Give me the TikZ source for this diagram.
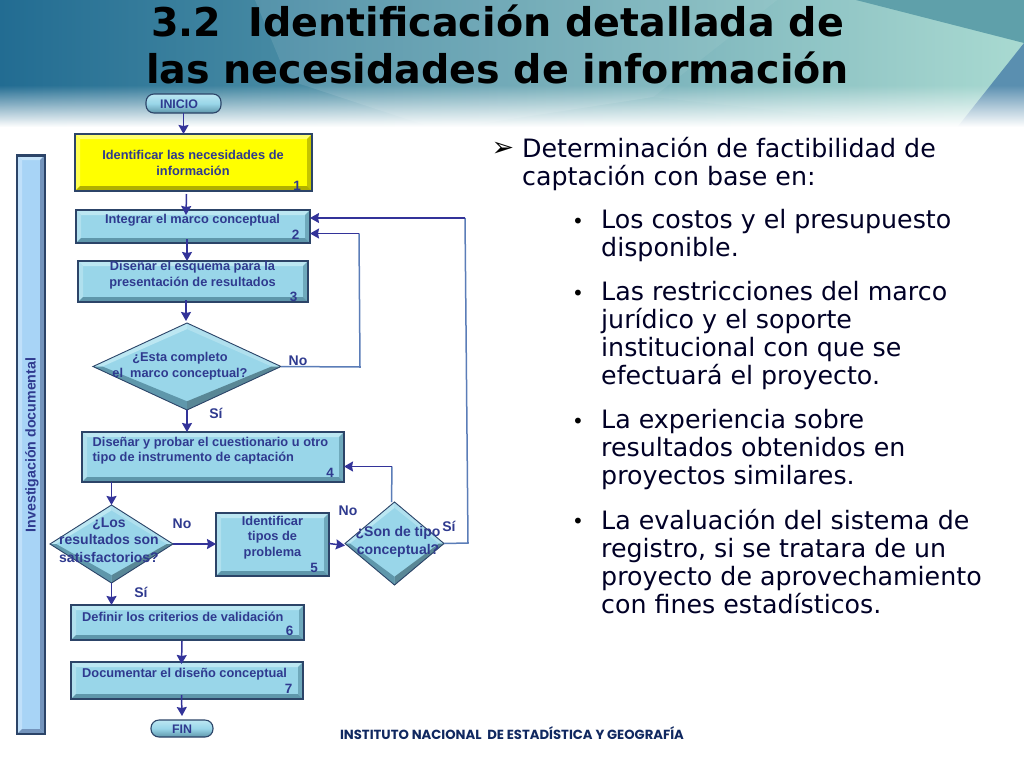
\documentclass[tikz,border=0pt]{standalone}
\usepackage{fontspec}
\setmainfont{Liberation Sans}
\newfontfamily\dv{DejaVu Sans}
\newfontfamily\pop{Poppins}
\usetikzlibrary{arrows.meta,shapes.geometric,calc}
\definecolor{ink}{HTML}{2F3A8F}
\definecolor{arrowc}{HTML}{333399}
\definecolor{loopc}{HTML}{5B7DB8}
\definecolor{edgec}{HTML}{2C4468}
\definecolor{blumain}{HTML}{99D6E9}
\definecolor{blutop}{HTML}{BCE7F2}
\definecolor{bluleft}{HTML}{B0E0EE}
\definecolor{bluright}{HTML}{6FA9BC}
\definecolor{blubot}{HTML}{5F97AB}
\definecolor{yelmain}{HTML}{FFFF00}
\definecolor{yeltop}{HTML}{FFFF70}
\definecolor{yelleft}{HTML}{FFFF50}
\definecolor{yelright}{HTML}{C4C400}
\definecolor{yelbot}{HTML}{B0B000}
\definecolor{sidmain}{HTML}{A8D4F6}
\definecolor{sidtop}{HTML}{C6E4FA}
\definecolor{sidleft}{HTML}{C0E0FA}
\definecolor{sidright}{HTML}{7494BC}
\definecolor{sidbot}{HTML}{7494BC}
\definecolor{bandl}{RGB}{34,108,146}
\definecolor{bandm}{RGB}{100,152,170}
\definecolor{bandr}{RGB}{165,216,207}
\definecolor{bandc}{RGB}{95,160,170}
\definecolor{bandt}{RGB}{90,143,176}
\definecolor{footc}{RGB}{16,40,96}
\tikzset{
  x=1pt,y=-1pt,
  flowtxt/.style={font=\bfseries\fontsize{12.8}{15.4}\selectfont,text=ink,align=center,inner sep=0pt},
  bigtxt/.style={flowtxt,font=\bfseries\fontsize{14}{17.3}\selectfont},
  lefttxt/.style={flowtxt,align=left,anchor=west},
  numtxt/.style={flowtxt,font=\bfseries\fontsize{13.5}{15}\selectfont},
  lbl/.style={flowtxt,font=\bfseries\fontsize{14}{15}\selectfont},
  flow/.style={draw=arrowc,line width=1.5pt,-{Stealth[length=9pt,width=10pt,inset=1pt]}},
  loopline/.style={draw=loopc,line width=1.5pt},
  pill/.style={rectangle,rounded corners=8pt,draw=edgec,line width=1.1pt,top color=blutop,bottom color=blubot,middle color=blumain,inner sep=0pt,outer sep=0pt},
  body/.style={font=\dv\fontsize{25.3}{28}\selectfont,text=black!85!blue,align=left,anchor=north west,inner sep=0pt},
  bul/.style={font=\dv\fontsize{20}{28}\selectfont,text=black,inner sep=0pt},
  titletxt/.style={font=\dv\bfseries\fontsize{39.6}{47}\selectfont,text=black,inner sep=0pt,anchor=center}
}
\newcommand\bev[6]{%
  \node[rectangle,inner sep=0pt,outer sep=0pt,fill=#6main,minimum width={(#4-#2)*1pt},minimum height={(#5-#3)*1pt}] (#1) at ({(#2+#4)/2},{(#3+#5)/2}) {};
  \fill[#6top] (#1.north west) -- (#1.north east) -- ([shift={(-5,5)}]#1.north east) -- ([shift={(5,5)}]#1.north west) -- cycle;
  \fill[#6left] (#1.north west) -- (#1.south west) -- ([shift={(5,-5)}]#1.south west) -- ([shift={(5,5)}]#1.north west) -- cycle;
  \fill[#6right] (#1.north east) -- (#1.south east) -- ([shift={(-5,-5)}]#1.south east) -- ([shift={(-5,5)}]#1.north east) -- cycle;
  \fill[#6bot] (#1.south west) -- (#1.south east) -- ([shift={(-5,-5)}]#1.south east) -- ([shift={(5,-5)}]#1.south west) -- cycle;
  \draw[edgec,line width=1.1pt] (#1.north west) rectangle (#1.south east);
}
\newcommand\dia[5]{%
  \node[diamond,aspect=1,inner sep=0pt,outer sep=0pt,fill=blumain,minimum width={2*#4*1pt},minimum height={2*#5*1pt}] (#1) at (#2,#3) {};
  \coordinate (#1n) at ($(#1.center)!0.86!(#1.north)$);
  \coordinate (#1s) at ($(#1.center)!0.80!(#1.south)$);
  \coordinate (#1e) at ($(#1.center)!0.90!(#1.east)$);
  \coordinate (#1w) at ($(#1.center)!0.90!(#1.west)$);
  \fill[blutop] (#1.west) -- (#1.north) -- (#1n) -- (#1w) -- cycle;
  \fill[bluleft] (#1.north) -- (#1.east) -- (#1e) -- (#1n) -- cycle;
  \fill[blubot] (#1.west) -- (#1.south) -- (#1s) -- (#1w) -- cycle;
  \fill[bluright!80!black] (#1.south) -- (#1.east) -- (#1e) -- (#1s) -- cycle;
  \draw[edgec,line width=.9pt] (#1.west) -- (#1.north) -- (#1.east) -- (#1.south) -- cycle;
}
\begin{document}
\begin{tikzpicture}
\useasboundingbox (0,0) rectangle (1024,768);
\fill[white] (0,0) rectangle (1024,768);
% header band
\shade[left color=bandl,middle color=bandm,right color=bandr] (0,0) rectangle (1024,130);
\fill[white,opacity=.10] (255,0) -- (288,80) -- (440,130) -- (653,97) -- (777,0) -- cycle;
\fill[white,opacity=.05] (777,0) -- (653,97) -- (955,130) -- (1024,43) -- (856,0) -- cycle;
\fill[bandc] (856,0) -- (1024,0) -- (1024,43) -- cycle;
\fill[bandt] (1024,43) -- (955,130) -- (1024,130) -- cycle;
\foreach \yy in {85,...,127}{
  \pgfmathsetmacro\oo{(\yy-85)/42}
  \fill[white,opacity=\oo] (0,\yy) rectangle (1024,\yy+1);
}
\fill[white] (0,128) rectangle (1024,131);
% title
\node[titletxt] (t1) at (497.5,21) {3.2\ \ Identificación detallada de};
\node[titletxt] (t2) at (497.5,68) {las necesidades de información};
% side bar
\bev{side}{17}{155}{45}{734}{sid}
\fill[edgec] (side.north west) rectangle ([shift={(0,2)}]side.north east);
\node[flowtxt,rotate=90,font=\bfseries\fontsize{14.2}{15}\selectfont] (sidet) at (32,445) {Investigación documental};
% terminals
\node[pill,minimum width=75pt,minimum height=19pt] (inicio) at (183.5,103.5) {};
\node[flowtxt,font=\bfseries\fontsize{12.4}{14}\selectfont] (iniciot) at (179,104) {INICIO};
\node[pill,minimum width=62pt,minimum height=17pt] (fin) at (182,728.5) {};
\node[flowtxt,font=\bfseries\fontsize{12.4}{14}\selectfont] (fint) at (182,729.5) {FIN};
% boxes
\bev{b1}{75}{134}{312}{191}{yel}
\bev{b2}{76}{210}{310}{243}{blu}
\bev{b3}{78}{261}{308}{302}{blu}
\bev{b4}{82}{432}{344}{482}{blu}
\bev{b5}{216}{513}{329}{576}{blu}
\bev{b6}{71}{605}{304}{640}{blu}
\bev{b7}{71}{662}{303}{699}{blu}
\dia{d1}{187}{366.5}{94}{43.5}
\dia{d2}{111.5}{544}{61.5}{39}
\dia{d3}{394.5}{543.5}{49.5}{41.5}
% texts
\node[flowtxt] (b1t) at (193,163) {Identificar las necesidades de\\información};
\node[numtxt] (b1n) at (297,186) {1};
\node[flowtxt] (b2t) at (192.5,220) {Integrar el marco conceptual};
\node[numtxt] (b2n) at (295.5,235) {2};
\node[flowtxt] (b3t) at (192.5,275) {Diseñar el esquema para la\\presentación de resultados};
\node[numtxt] (b3n) at (293.5,297) {3};
\node[flowtxt] (d1t) at (180,366) {¿Esta completo\\el\ \ marco conceptual?};
\node[lbl] (d1no) at (298,360.5) {No};
\node[lbl] (d1si) at (216,413) {Sí};
\node[lefttxt,align=left] (b4t) at (92.5,450.5) {Diseñar y probar el cuestionario u otro\\tipo de instrumento de captación};
\node[numtxt] (b4n) at (330,473) {4};
\node[bigtxt] (d2t) at (109,540) {¿Los\\resultados son\\satisfactorios?};
\node[lbl] (d2no) at (182,523.5) {No};
\node[lbl] (d2si) at (141,592.5) {Sí};
\node[flowtxt] (b5t) at (272.5,537.5) {Identificar\\tipos de\\problema};
\node[numtxt] (b5n) at (314,568) {5};
\node[bigtxt] (d3t) at (398,542) {¿Son de tipo\\conceptual?};
\node[lbl] (d3no) at (348,510.5) {No};
\node[lbl] (d3si) at (449,526.5) {Sí};
\node[lefttxt] (b6t) at (82,616.5) {Definir los criterios de validación};
\node[numtxt] (b6n) at (289.5,631) {6};
\node[lefttxt] (b7t) at (82,674.5) {Documentar el diseño conceptual};
\node[numtxt] (b7n) at (288.5,689) {7};
% connectors
\draw[flow] (inicio.south) -- (inicio.south |- b1.north);
\draw[flow] ([shift={(-7,3)}]b1.south) -- ([shift={(-7,5)}]b2.north);
\draw[flow] ([shift={(-6,-4)}]b2.south) -- ([xshift=-6]b3.north);
\draw[flow] ([shift={(-7,-2)}]b3.south) -- ([shift={(-7,-2)}]b3.south |- d1.north);
\draw[flow] (d1.south) -- (d1.south |- b4.north);
\draw[flow] (d2.north |- b4.south) -- (d2.north);
\draw[flow] (d2.south) -- (d2.south |- b6.north);
\draw[flow] (d2.east) -- (b5.west |- d2.east);
\draw[flow] ([yshift=1]b5.east) -- ([yshift=-2]d3.west);
\draw[flow] ([shift={(-5.5,1)}]b6.south) -- ([shift={(-5.5,2)}]b7.north);
\draw[flow] ([shift={(-5.5,-4)}]b7.south) -- ([shift={(0,-4)}]fin.north);
\coordinate (c1) at (360,367);
\coordinate (c2) at (359,233.5);
\coordinate (c3) at (468,543);
\coordinate (c4) at (465,218);
\coordinate (c5) at (392,466.5);
\draw[loopline] (d1.east) -- (c1) -- (c2);
\draw[flow] (c2) -- (b2.east |- c2);
\draw[loopline] (d3.east) -- (c3) -- (c4);
\draw[flow] (c4) -- (b2.east |- c4);
\draw[loopline] ([xshift=-3]d3.north) -- (c5);
\draw[flow] (c5) -- (b4.east |- c5);
% right column
\node[font=\dv\fontsize{27}{28}\selectfont,inner sep=0pt] (m0) at (503,149) {➢};
\node[body] (m1) at (522,137.5) {Determinación de factibilidad de\\captación con base en:};
\node[bul] (s1) at (578,223) {•};
\node[body] (m2) at (601,209.5) {Los costos y el presupuesto\\disponible.};
\node[bul] (s2) at (578,295) {•};
\node[body] (m3) at (601,281.5) {Las restricciones del marco\\jurídico y el soporte\\institucional con que se\\efectuará el proyecto.};
\node[bul] (s3) at (578,423) {•};
\node[body] (m4) at (601,409.5) {La experiencia sobre\\resultados obtenidos en\\proyectos similares.};
\node[bul] (s4) at (578,523) {•};
\node[body] (m5) at (601,509.5) {La evaluación del sistema de\\registro, si se tratara de un\\proyecto de aprovechamiento\\con fines estadísticos.};
% footer
\node[font=\pop\bfseries\fontsize{13.2}{14}\selectfont,text=footc,inner sep=0pt] (foot) at (512,733) {INSTITUTO NACIONAL\ \ DE ESTADÍSTICA Y GEOGRAFÍA};
\end{tikzpicture}
\end{document}
